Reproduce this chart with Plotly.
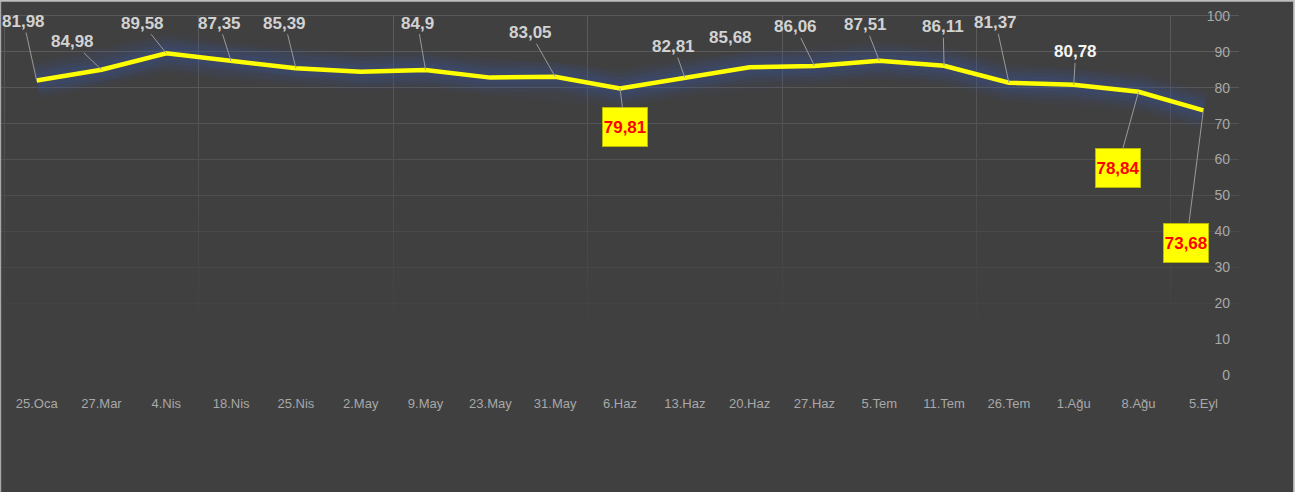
import plotly.graph_objects as go

# ---------------- data ----------------
categories = ["25.Oca", "27.Mar", "4.Nis", "18.Nis", "25.Nis", "2.May", "9.May",
              "23.May", "31.May", "6.Haz", "13.Haz", "20.Haz", "27.Haz", "5.Tem",
              "11.Tem", "26.Tem", "1.Ağu", "8.Ağu", "5.Eyl"]
values = [81.98, 84.98, 89.58, 87.35, 85.39, 84.4, 84.9, 82.8, 83.05, 79.81,
          82.81, 85.68, 86.06, 87.51, 86.11, 81.37, 80.78, 78.84, 73.68]
labelled = [True, True, True, True, True, False, True, False, True, True,
            True, True, True, True, True, True, True, True, True]
y_ticks = [0, 10, 20, 30, 40, 50, 60, 70, 80, 90, 100]

# ---------------- style ----------------
W, H = 1310, 492
BG = "#404040"
x_range = [-0.55, 18.55]
y_range = [-3, 103]
M = dict(l=1.4, r=71.4, t=5.2, b=106.2)

# label style per point: (dx, dy, kind) kind: n=normal, w=white, b=boxed, x=no leader
label_style = [(-13, -59, "n"), (-29, -28, "n"), (-24, -30, "n"), (-12, -38, "n"),
               (-11, -45, "n"), (0, 0, "n"), (-8, -47, "n"), (0, 0, "n"),
               (-25, -44, "n"), (5, 39, "b"), (-11, -31, "n"), (-19, -30, "x"),
               (-19, -39, "n"), (-14, -36, "n"), (-1, -39, "n"), (-13, -60, "n"),
               (2, -33, "w"), (-21, 76, "b"), (-17, 133, "b")]

FONT = "Liberation Sans Narrow, Arial Narrow, Liberation Sans, Arial, sans-serif"

xs = list(range(len(categories)))

fig = go.Figure()

# gradient overlay that fades the gridlines toward the bottom and hides them above 100
span = y_range[1] - y_range[0]
f100 = (100 - y_range[0]) / span
fig.add_trace(go.Scatter(
    x=[x_range[0], x_range[1], x_range[1], x_range[0], x_range[0]],
    y=[y_range[0], y_range[0], y_range[1], y_range[1], y_range[0]],
    mode="none", fill="toself",
    fillgradient=dict(type="vertical",
                      colorscale=[[0, "rgba(64,64,64,1)"],
                                  [(15 - y_range[0]) / span, "rgba(64,64,64,0.95)"],
                                  [(45 - y_range[0]) / span, "rgba(64,64,64,0.6)"],
                                  [f100, "rgba(64,64,64,0)"],
                                  [f100 + 0.004, "rgba(64,64,64,1)"],
                                  [1, "rgba(64,64,64,1)"]]),
    hoverinfo="skip", showlegend=False))

# soft glow
for w, a in [(38, 0.07), (30, 0.09), (22, 0.12), (14, 0.16)]:
    fig.add_trace(go.Scatter(x=xs, y=values, mode="lines",
                             line=dict(color=f"rgba(55,90,170,{a})", width=w),
                             hoverinfo="skip", showlegend=False))

fig.add_trace(go.Scatter(x=xs, y=values, mode="lines",
                         line=dict(color="#FFFF00", width=4.5),
                         showlegend=False))

annotations = []
for i, (v, show) in enumerate(zip(values, labelled)):
    if not show:
        continue
    dx, dy, kind = label_style[i]
    txt = f"{v:g}".replace(".", ",")
    a = dict(x=xs[i], y=v, xref="x", yref="y", text=f"<b>{txt}</b>",
             showarrow=True, arrowhead=0, arrowwidth=1, arrowcolor="#9a9a9a",
             standoff=0, startstandoff=0, ax=dx, ay=dy,
             font=dict(family=FONT, size=17, color="#d2d2d2"))
    if kind == "w":
        a["font"]["color"] = "#f4f4f4"
    elif kind == "x":
        a["arrowcolor"] = "rgba(0,0,0,0)"
    elif kind == "b":
        a.update(bgcolor="#FFFF00", bordercolor="#b8b800", borderwidth=1,
                 width=44, height=38, borderpad=0)
        a["font"]["color"] = "#FF0000"
        a["font"]["size"] = 17
    annotations.append(a)

# px -> paper helpers
L, R = M["l"], W - M["r"]
T, B = M["t"], H - M["b"]
def px(xp):
    return (xp - L) / (R - L)
def py(yp):
    return (B - yp) / (B - T)

shapes = [
    dict(type="rect", xref="paper", yref="paper", x0=px(1293), x1=px(W + 5),
         y0=py(H + 5), y1=py(-5), fillcolor="white", line=dict(width=0), layer="above"),
    dict(type="line", xref="paper", yref="paper", x0=px(1293.5), x1=px(1293.5),
         y0=py(H + 5), y1=py(0), line=dict(color="#b0b0b0", width=1.5), layer="above"),
    dict(type="line", xref="paper", yref="paper", x0=px(0.8), x1=px(0.8),
         y0=py(H + 5), y1=py(0), line=dict(color="#a8a8a8", width=1.6), layer="above"),
    dict(type="line", xref="paper", yref="paper", x0=px(0), x1=px(1294),
         y0=py(1), y1=py(1), line=dict(color="#bdbdbd", width=2), layer="above"),
]

fig.update_layout(
    width=W, height=H, margin=M,
    paper_bgcolor=BG, plot_bgcolor="rgba(0,0,0,0)",
    showlegend=False, annotations=annotations, shapes=shapes,
    xaxis=dict(range=x_range, tickmode="array", tickvals=xs, ticktext=categories,
               showgrid=False, zeroline=False, showline=False, ticks="",
               ticklabelstandoff=8,
               tickfont=dict(family=FONT, size=13, color="#a8a8a8"),
               minor=dict(tickmode="linear", tick0=-0.5, dtick=3, showgrid=True,
                          gridcolor="#5c5c5c", gridwidth=1, ticks="")),
    yaxis=dict(range=y_range, side="right", tickmode="array", tickvals=y_ticks,
               ticklabelposition="inside", ticklabelstandoff=6,
               showgrid=True, gridcolor="#5e5e5e",
               gridwidth=1.2, zeroline=False, showline=False, ticks="",
               tickfont=dict(family=FONT, size=14, color="#a8a8a8")),
)

fig.write_html("out.html", config={"displayModeBar": False},
               post_script="document.body.style.margin='0px';")
